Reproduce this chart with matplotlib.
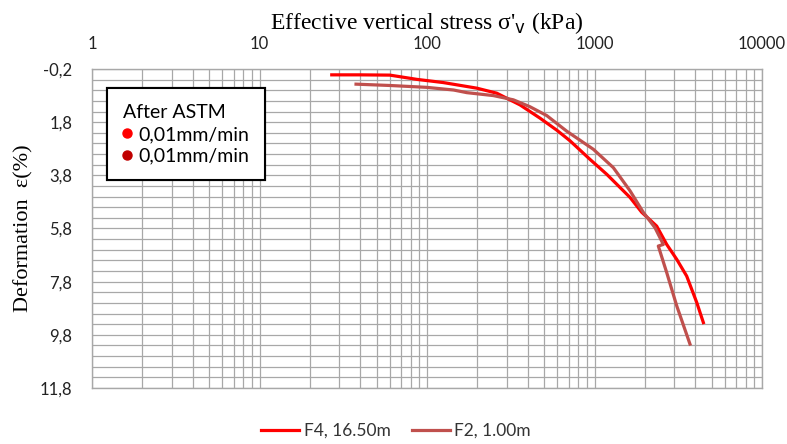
import numpy as np
import matplotlib.pyplot as plt
from matplotlib.lines import Line2D
from matplotlib.ticker import FixedLocator, NullFormatter, FixedFormatter, LogLocator

# Data (stress in kPa, deformation in %)
stress_f4 = [27, 40, 60, 87, 125, 198, 261, 359, 473, 595, 714, 940, 1183,
             1629, 1914, 2351, 2699, 3097, 3551, 4076, 4467]
eps_f4 = [0.02, 0.02, 0.03, 0.19, 0.31, 0.52, 0.71, 1.15, 1.65, 2.10, 2.50,
          3.20, 3.76, 4.63, 5.19, 5.71, 6.40, 6.96, 7.59, 8.58, 9.34]

stress_f2 = [37.7, 60, 99.5, 144, 173, 249, 328, 412, 518, 683, 984, 1295,
             1629, 1955, 2297, 2576, 2404, 2699, 3097, 3716]
eps_f2 = [0.37, 0.42, 0.49, 0.59, 0.69, 0.80, 0.96, 1.22, 1.55, 2.14, 2.82,
          3.51, 4.38, 5.19, 5.77, 6.40, 6.46, 7.46, 8.71, 10.15]

series_names = ["F4, 16.50m", "F2, 1.00m"]
series_colors = ["#FF0000", "#C0504D"]

x_ticks = [1, 10, 100, 1000, 10000]
x_ticklabels = ["1", "10", "100", "1000", "10000"]
y_ticks = [-0.2, 1.8, 3.8, 5.8, 7.8, 9.8, 11.8]
y_ticklabels = ["-0,2", "1,8", "3,8", "5,8", "7,8", "9,8", "11,8"]

legend_title = "After ASTM"
legend_rates = ["0,01mm/min", "0,01mm/min"]
legend_dot_colors = ["#FF0000", "#C00000"]

W, H = 787, 444
fig = plt.figure(figsize=(W / 100, H / 100), dpi=100)
ax = fig.add_axes([92 / W, 1 - 388 / H, 670 / W, 319 / H])

serif = "Liberation Serif"
sans = "Lato"
plt.rcParams["mathtext.fontset"] = "stix"

ax.plot(stress_f4, eps_f4, color=series_colors[0], lw=2.3, label=series_names[0])
ax.plot(stress_f2, eps_f2, color=series_colors[1], lw=2.3, label=series_names[1])

ax.set_xscale("log")
ax.set_xlim(1, 10000)
ax.set_ylim(11.8, -0.2)

# grid
grid_col = "#A8A8A8"
ax.xaxis.set_major_locator(FixedLocator(x_ticks))
ax.xaxis.set_major_formatter(FixedFormatter(x_ticklabels))
ax.xaxis.set_minor_locator(LogLocator(base=10, subs=np.arange(2, 10)))
ax.xaxis.set_minor_formatter(NullFormatter())
ax.yaxis.set_major_locator(FixedLocator(y_ticks))
ax.yaxis.set_major_formatter(FixedFormatter(y_ticklabels))
ax.yaxis.set_minor_locator(FixedLocator(np.arange(-0.2, 11.81, 0.4)))
ax.grid(which="both", color=grid_col, lw=0.9)
ax.set_axisbelow(True)
for s in ax.spines.values():
    s.set_color(grid_col)
    s.set_linewidth(1.0)

ax.xaxis.tick_top()
ax.xaxis.set_label_position("top")
ax.tick_params(which="both", length=0)
ax.tick_params(axis="x", pad=12, labelsize=12, labelcolor="#222222")
ax.tick_params(axis="y", pad=14, labelsize=12, labelcolor="#222222")
for lab in ax.get_xticklabels() + ax.get_yticklabels():
    lab.set_family(sans)

ax.set_xlabel("Effective vertical stress σ'$_{\\rm v}$ (kPa)", family=serif,
              fontsize=17, labelpad=5)
ax.set_ylabel("Deformation  ε(%)", family=serif, fontsize=16, labelpad=5)

# inner legend box
dots = [Line2D([], [], ls="none", marker="o", ms=6.5, color=c) for c in legend_dot_colors]
leg = ax.legend(dots, legend_rates, title=legend_title, loc="upper left",
                bbox_to_anchor=(107 / W, 1 - 88 / H), bbox_transform=fig.transFigure,
                borderaxespad=0, frameon=True, fancybox=False, framealpha=1,
                edgecolor="black", prop={"family": sans, "size": 14},
                title_fontproperties={"family": sans, "size": 14},
                alignment="left", handlelength=0.5, handletextpad=0.3,
                borderpad=0.8, labelspacing=0.22, markerfirst=True)
leg.get_frame().set_linewidth(1.5)
leg._legend_box.sep = 4
ax.add_artist(leg)

# bottom legend
fig.legend(loc="center", bbox_to_anchor=(396 / W, 1 - 431 / H), ncol=2,
           frameon=False, prop={"family": sans, "size": 12.5},
           handlelength=2.2, handletextpad=0.25, columnspacing=1.2,
           labelcolor="#333333")

fig.savefig("out.png", dpi=100)
